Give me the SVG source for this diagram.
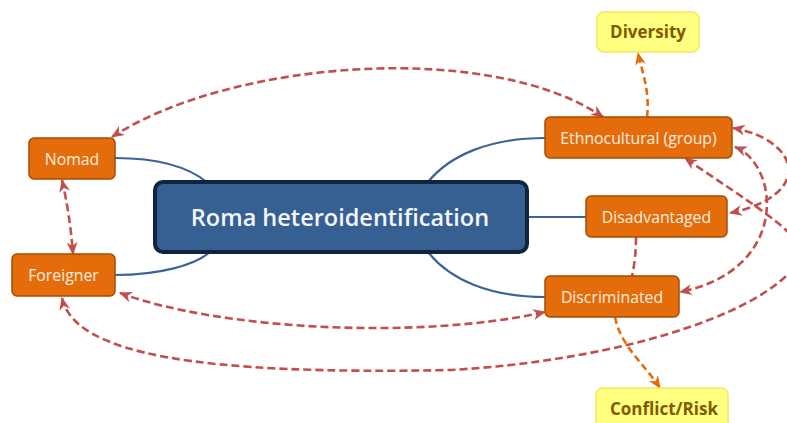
<svg xmlns="http://www.w3.org/2000/svg" width="787" height="423" viewBox="0 0 787 423">
<style>
.node rect{fill:#e46c0a;stroke:#a34d06;stroke-width:1.5}
.node text{fill:#fdeee0;font-family:"Open Sans","Noto Sans",sans-serif;font-size:15.8px;text-anchor:middle;dominant-baseline:central}
.leaf rect{fill:#ffff80;stroke:#f0e860;stroke-width:1.5}
.leaf text{fill:#7f5a00;font-family:"Open Sans","Noto Sans",sans-serif;font-size:17px;font-weight:bold;text-anchor:middle;dominant-baseline:central}
.center rect{fill:#366092;stroke:#10243f;stroke-width:4}
.center text{fill:#f2f5fa;font-family:"Open Sans","Noto Sans",sans-serif;font-size:23.5px;font-weight:600;text-anchor:middle;dominant-baseline:central}
.branch{fill:none;stroke:#3a6496;stroke-width:2.2}
.rel{fill:none;stroke:#c0504d;stroke-width:2.6;stroke-dasharray:8 4}
.out{fill:none;stroke:#e46c0a;stroke-width:2.6;stroke-dasharray:7 4}
</style>
<defs>
<marker id="ar" viewBox="0 0 12 10" refX="11" refY="5" markerWidth="13" markerHeight="11" markerUnits="userSpaceOnUse" orient="auto-start-reverse">
<path d="M0,0 L12,5 L0,10 L3.5,5 z" fill="#c0504d"/>
</marker>
<marker id="ao" viewBox="0 0 12 10" refX="11" refY="5" markerWidth="13" markerHeight="11" markerUnits="userSpaceOnUse" orient="auto">
<path d="M0,0 L12,5 L0,10 L3.5,5 z" fill="#e46c0a"/>
</marker>
</defs>
<rect width="787" height="423" fill="#ffffff"/>
<g id="connectors">
<path class="branch" d="M115,158 C160,158 190,168 208,183"/>
<path class="branch" d="M115,275 C160,275 195,265 210,252"/>
<path class="branch" d="M545,138 C490,138 450,155 428,182"/>
<path class="branch" d="M527,217 L586,217"/>
<path class="branch" d="M545,297 C490,297 450,280 428,252"/>
<path class="rel" d="M112,137 C230,60 490,40 603,117" marker-start="url(#ar)" marker-end="url(#ar)"/>
<path class="rel" d="M62,180 Q70,215 73,254" marker-start="url(#ar)" marker-end="url(#ar)"/>
<path class="rel" d="M120,293 C220,330 420,340 545,312" marker-start="url(#ar)" marker-end="url(#ar)"/>
<path class="rel" d="M62,298 C75,355 200,375 450,370 C600,362 760,320 800,260 C815,240 745,200 685,158" marker-start="url(#ar)" marker-end="url(#ar)"/>
<path class="rel" d="M733,128 C800,140 815,195 730,213" marker-start="url(#ar)" marker-end="url(#ar)"/>
<path class="rel" d="M735,147 C780,165 790,270 680,292" marker-start="url(#ar)" marker-end="url(#ar)"/>
<path class="rel" d="M636,237 Q636,258 632,276"/>
<path class="out" d="M647,117 C650,90 642,72 638,53" marker-end="url(#ao)"/>
<path class="out" d="M615,317 C620,345 645,365 660,388" marker-end="url(#ao)"/>
</g>
<g id="central" class="center">
<rect x="155" y="182" width="372" height="70" rx="8"/>
<text x="340" y="217">Roma heteroidentification</text>
</g>
<g id="nomad" class="node">
<rect x="29" y="138" width="86" height="41" rx="5"/>
<text x="72" y="158.5">Nomad</text>
</g>
<g id="foreigner" class="node">
<rect x="12" y="254" width="103" height="42" rx="5"/>
<text x="63.5" y="275">Foreigner</text>
</g>
<g id="ethnocultural" class="node">
<rect x="545" y="117" width="187" height="41" rx="5"/>
<text x="638.5" y="137.5">Ethnocultural (group)</text>
</g>
<g id="disadvantaged" class="node">
<rect x="586" y="196" width="141" height="41" rx="5"/>
<text x="656.5" y="216.5">Disadvantaged</text>
</g>
<g id="discriminated" class="node">
<rect x="545" y="276" width="134" height="41" rx="5"/>
<text x="612" y="296.5">Discriminated</text>
</g>
<g id="diversity" class="leaf">
<rect x="597" y="12" width="102" height="40" rx="7"/>
<text x="648" y="31">Diversity</text>
</g>
<g id="conflict" class="leaf">
<rect x="596" y="388" width="132" height="42" rx="7"/>
<text x="664" y="408">Conflict/Risk</text>
</g>
</svg>
